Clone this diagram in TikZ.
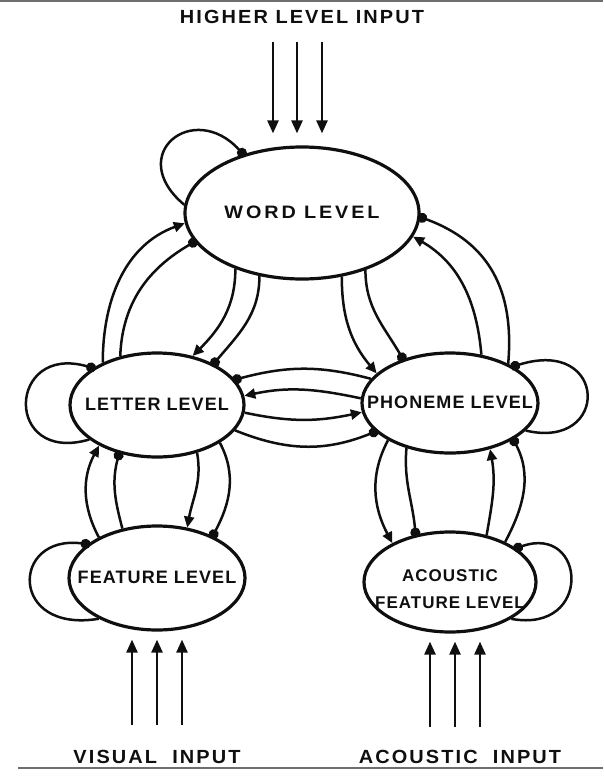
\documentclass[tikz,border=0pt]{standalone}
\usepackage{fontspec}
\setmainfont{Liberation Sans}
\usepackage{xcolor}
\usepackage{tikz}
\definecolor{inkblack}{RGB}{15, 15, 15}
\definecolor{framegray}{RGB}{110, 110, 110}
\usetikzlibrary{shapes.geometric, arrows.meta, positioning, calc}
\newcommand{\levelname}[1]{\makebox[0pt]{\begin{tabular}{@{}c@{}}#1\end{tabular}}}

\begin{document}
\begin{tikzpicture}[
    x=1pt, y=1pt,
    node distance=1cm, on grid,
    levelbox/.style={ellipse, draw=inkblack, line width=3.2pt, inner sep=0pt,
                     font=\fontsize{18}{27}\selectfont\bfseries\addfontfeature{LetterSpace=6},
                     text=inkblack},
    wordbox/.style={levelbox,
                    font=\fontsize{18}{27}\selectfont\bfseries\addfontfeature{FakeStretch=1.1, LetterSpace=16}},
    tagtext/.style={font=\fontsize{19}{22}\selectfont\bfseries\addfontfeature{FakeStretch=1.05, LetterSpace=11},
                    text=inkblack},
    link/.style={draw=inkblack, line width=2.5pt},
    excite/.style={link, -{Triangle[length=11pt, width=10pt]}},
    inhibit/.style={link, shorten >=-3pt, -{Circle[length=10pt]}},
    feed/.style={link, -{Triangle[length=13pt, width=11pt]}}
]
    \useasboundingbox (0,0) rectangle (603,-777);
    \draw[framegray, line width=1.5pt] (0,-1) -- (603,-1);
    \draw[framegray, line width=1.2pt] (18,-768) -- (603,-768);

    \node[wordbox, minimum width=234pt, minimum height=132pt] (word) at (302,-213) {\levelname{WORD LEVEL}};
    \node[levelbox, minimum width=174pt, minimum height=104pt, below left=192pt and 145pt of word] (letter) {\levelname{LETTER LEVEL}};
    \node[levelbox, minimum width=176pt, minimum height=100pt, below right=190pt and 148pt of word] (phoneme) {\levelname{PHONEME LEVEL}};
    \node[levelbox, minimum width=176pt, minimum height=104pt, below=173pt of letter] (feature) {\levelname{FEATURE LEVEL}};
    \node[levelbox, minimum width=172pt, minimum height=100pt, below=179pt of phoneme,
          font=\fontsize{17}{27}\selectfont\bfseries\addfontfeature{LetterSpace=6}] (acoustic)
          {\levelname{\raisebox{-7pt}[0pt][0pt]{\begin{tabular}{@{}c@{}}ACOUSTIC\\FEATURE LEVEL\end{tabular}}}};

    \node[tagtext, above=196pt of word] (higher) {HIGHER LEVEL INPUT};
    \node[tagtext, below=179pt of feature] (visualin) {VISUAL\hspace{0.8em}INPUT};
    \node[tagtext, below=175pt of acoustic, xshift=10pt] (acousticin) {ACOUSTIC\hspace{0.8em}INPUT};

    \foreach \dx [count=\i] in {-29,-5,20} {
        \coordinate (hitop\i) at ($(word)+(\dx,171)$);
        \draw[feed, shorten >=12pt] (hitop\i) -- (hitop\i |- word.north);
    }
    \foreach \dx [count=\i] in {-25,0,25} {
        \coordinate (visbot\i) at ($(feature)+(\dx,-147)$);
        \draw[feed, shorten >=8pt] (visbot\i) -- (visbot\i |- feature.south);
    }
    \foreach \dx [count=\i] in {-20,5,30} {
        \coordinate (acbot\i) at ($(acoustic)+(\dx,-145)$);
        \draw[feed, shorten >=8pt] (acbot\i) -- (acbot\i |- acoustic.south);
    }

    \draw[inhibit] (word.176) .. controls +(-60,50) and +(-50,55) .. (word.135);
    \draw[inhibit] (letter.207) .. controls +(-86,-25) and +(-86,25) .. (letter.150);
    \draw[inhibit] (phoneme.-20) .. controls +(85,-20) and +(95,30) .. (phoneme.30);
    \draw[inhibit] (feature.215) .. controls +(-90,-15) and +(-77,10) .. (feature.154);
    \draw[inhibit] (acoustic.-31) .. controls +(82,-15) and +(70,25) .. (acoustic.27);

    \draw[excite] (letter.142) to[out=90, in=200] (word.185);
    \draw[inhibit] (letter.127) to[out=88, in=210] (word.195);
    \draw[excite] (word.220) to[out=-90, in=45] (letter.54);
    \draw[inhibit] (word.236) to[out=-90, in=50] (letter.36);
    \draw[excite] (word.302) to[out=-90, in=130] (phoneme.158);
    \draw[inhibit] (word.318) to[out=-90, in=120] (phoneme.137);
    \draw[inhibit] (phoneme.34) to[out=85, in=-20, looseness=1.1] (word.-2);
    \draw[excite] (phoneme.57) to[out=95, in=-30] (word.-12);

    \draw[inhibit] (phoneme.163) to[out=165, in=15] (letter.18);
    \draw[excite] (phoneme.177) to[out=168, in=12] (letter.6);
    \draw[excite] (letter.-5) to[out=-12, in=192] (phoneme.186);
    \draw[inhibit] (letter.-18) to[out=-22, in=202] (phoneme.201);

    \draw[excite] (feature.145) to[out=118, in=-118] (letter.215);
    \draw[inhibit] (feature.125) to[out=105, in=-105] (letter.232);
    \draw[excite] (letter.-50) to[out=-80, in=80] (feature.59);
    \draw[inhibit] (letter.-31) to[out=-62, in=62] (feature.37);

    \draw[excite] (phoneme.211) to[out=-118, in=118] (acoustic.146);
    \draw[inhibit] (phoneme.226) to[out=-95, in=95] (acoustic.126);
    \draw[excite] (acoustic.52) to[out=80, in=-80] (phoneme.-49);
    \draw[inhibit] (acoustic.36) to[out=62, in=-62] (phoneme.-30);
\end{tikzpicture}
\end{document}
